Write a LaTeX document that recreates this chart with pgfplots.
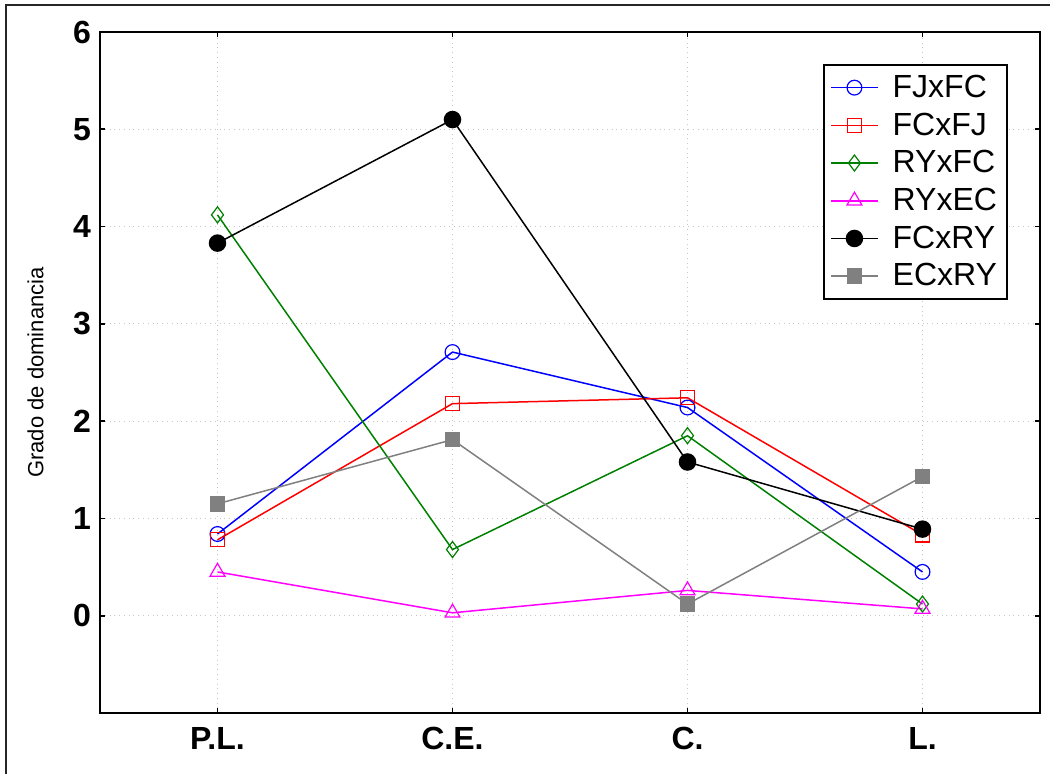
\documentclass[border=0pt]{standalone}
\usepackage{fontspec}
\setmainfont{Liberation Sans}
\usepackage{pgfplots}
\pgfplotsset{compat=1.18}
\definecolor{mymag}{RGB}{255,0,255}
\definecolor{mygreen}{RGB}{0,128,0}
\definecolor{mygray}{RGB}{128,128,128}
\begin{document}
\begin{tikzpicture}[x=1bp,y=1bp]
\begin{axis}[
  name=main,
  scale only axis,
  width=470bp, height=340.5bp,
  xmin=-0.5, xmax=3.5, ymin=-1, ymax=6,
  xtick={0,1,2,3},
  xticklabels={P.L., C.E., C., L.},
  ytick={0,1,2,3,4,5,6},
  /pgf/number format/assume math mode=true,
  ticklabel style={font=\fontsize{16bp}{18bp}\selectfont\bfseries},
  xticklabel style={yshift=-3.5bp},
  yticklabel style={xshift=-1bp},
  tick align=inside,
  major tick length=2.5bp,
  tick style={black, line width=0.8bp},
  axis line style={line width=1.2bp},
  grid=major,
  major grid style={gray!45, dotted, line width=0.6bp},
  ylabel={Grado de dominancia},
  ylabel style={font=\fontsize{11bp}{13bp}\selectfont},
  ylabel shift=8bp,
  legend style={at={(1,1)}, anchor=north east, xshift=-16bp, yshift=-16bp,
    font=\fontsize{16bp}{18bp}\selectfont, draw=black, line width=1bp,
    row sep=2.2bp, inner xsep=3bp, inner ysep=3bp,
    /tikz/every odd column/.append style={column sep=5bp}},
  legend cell align=left,
  legend image code/.code={
    \draw[#1, mark=none] (0bp,0bp) -- (23.5bp,0bp);
    \path[#1, draw=none] plot coordinates {(11.75bp,0bp)};
  },
]
\addplot[blue, line width=0.75bp, mark=o, mark size=3.7bp, mark options={fill=white, line width=0.6bp}]
  coordinates {(0,0.84) (1,2.71) (2,2.14) (3,0.45)};
\addlegendentry{FJxFC}
\addplot[red, line width=0.75bp, mark=square, mark size=3.5bp, mark options={fill=white, line width=0.6bp}]
  coordinates {(0,0.78) (1,2.18) (2,2.24) (3,0.83)};
\addlegendentry{FCxFJ}
\addplot[mygreen, line width=0.75bp, mark=diamond, mark size=4bp, mark options={fill=white, line width=0.6bp}]
  coordinates {(0,4.12) (1,0.68) (2,1.85) (3,0.12)};
\addlegendentry{RYxFC}
\addplot[mymag, line width=0.75bp, mark=triangle, mark size=4.3bp, mark options={fill=white, line width=0.6bp}]
  coordinates {(0,0.45) (1,0.03) (2,0.26) (3,0.07)};
\addlegendentry{RYxEC}
\addplot[black, line width=0.75bp, mark=*, mark size=4bp]
  coordinates {(0,3.83) (1,5.10) (2,1.58) (3,0.89)};
\addlegendentry{FCxRY}
\addplot[mygray, line width=0.75bp, mark=square*, mark size=3.5bp, mark options={fill=mygray}]
  coordinates {(0,1.15) (1,1.81) (2,0.12) (3,1.43)};
\addlegendentry{ECxRY}
\end{axis}
\path[use as bounding box] ([xshift=-50bp,yshift=-30.5bp]main.south west) rectangle ([xshift=475bp,yshift=356.5bp]main.south west);
\draw[line width=1.2bp, black!85] ([xshift=-47bp,yshift=-30.5bp]main.south west) -- ([xshift=-47bp,yshift=354bp]main.south west) -- ([xshift=475bp,yshift=354bp]main.south west);
\end{tikzpicture}
\end{document}
